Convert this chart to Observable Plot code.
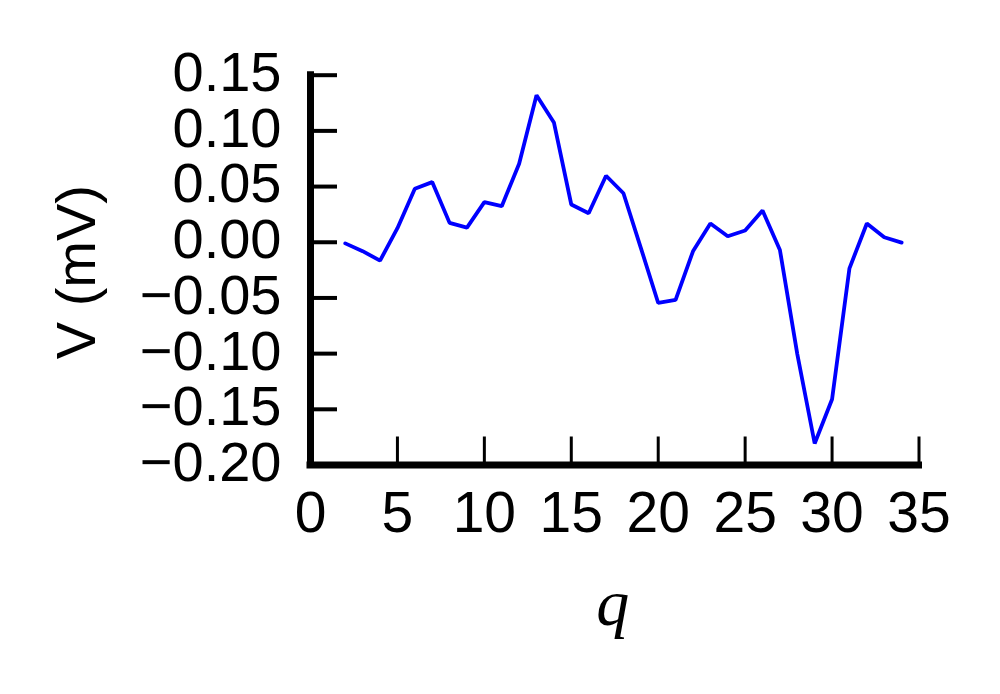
<!DOCTYPE html>
<html>
<head>
<meta charset="utf-8">
<script src="https://cdn.jsdelivr.net/npm/d3@7"></script>
<script src="https://cdn.jsdelivr.net/npm/@observablehq/plot@0.6"></script>
<style>
  html, body { margin: 0; padding: 0; background: #fff; overflow: hidden; }
  #chart svg { display: block; }
</style>
</head>
<body>
<div id="chart"></div>
<script>
// Data
const qValues = [2, 3, 4, 5, 6, 7, 8, 9, 10, 11, 12, 13, 14, 15, 16, 17, 18,
                 19, 20, 21, 22, 23, 24, 25, 26, 27, 28, 29, 30, 31, 32, 33, 34];
const vValues = [-0.001, -0.008, -0.0165, 0.0126, 0.048, 0.054, 0.0174, 0.0132, 0.036,
                 0.0324, 0.0705, 0.132, 0.1076, 0.0339, 0.026, 0.0597, 0.044, -0.005,
                 -0.0545, -0.0518, -0.0081, 0.0168, 0.0054, 0.0105, 0.0285, -0.0069,
                 -0.1004, -0.1807, -0.141, -0.0234, 0.0168, 0.0045, -0.0003];
const xTicks = [0, 5, 10, 15, 20, 25, 30, 35];
const yTicks = [0.15, 0.10, 0.05, 0.00, -0.05, -0.10, -0.15, -0.20];
const xDomain = [0, 35];
const yDomain = [-0.20, 0.15];
const xTitle = "q";
const yTitle = "V (mV)";

const data = qValues.map((q, i) => ({q, v: vValues[i]}));
const sans = "'Liberation Sans', Arial, Helvetica, sans-serif";
const fmt = d3.format(".2f");

const chart = Plot.plot({
  width: 1000,
  height: 694,
  marginLeft: 310,
  marginRight: 81.5,
  marginTop: 74.7,
  marginBottom: 229.5,
  style: {fontFamily: sans, background: "#fff", color: "#000", overflow: "visible"},
  x: {domain: xDomain},
  y: {domain: yDomain},
  marks: [
    // inward tick marks
    Plot.axisY(yTicks, {tickSize: 27, dx: 27, tickFormat: () => "", strokeWidth: 4, label: null}),
    Plot.axisX(xTicks, {tickSize: 28, dy: -28, tickFormat: () => "", strokeWidth: 3, label: null}),
    // tick labels
    Plot.axisY(yTicks, {tickSize: 0, tickPadding: 29, tickFormat: fmt, fontSize: 56, dy: -2, label: null}),
    Plot.axisX(xTicks, {tickSize: 0, tickPadding: 27, tickFormat: d => String(d), fontSize: 57, label: null}),
    // spines
    Plot.ruleX([xDomain[0]], {y1: yDomain[0], y2: yDomain[1], strokeWidth: 7, strokeLinecap: "square", stroke: "#000"}),
    Plot.ruleY([yDomain[0]], {x1: xDomain[0], x2: xDomain[1], strokeWidth: 7, strokeLinecap: "square", stroke: "#000"}),
    // data line
    Plot.line(data, {x: "q", y: "v", stroke: "#0000ff", strokeWidth: 3.8, strokeLinejoin: "miter"}),
    // axis titles
    Plot.text([xTitle], {frameAnchor: "bottom", textAnchor: "middle", lineAnchor: "middle", dy: 139, dx: -2,
      text: d => d, fontSize: 66,
      fontFamily: "'Liberation Serif', 'Times New Roman', serif", fontStyle: "italic", fill: "#000"}),
    Plot.text([yTitle], {frameAnchor: "left", textAnchor: "middle", lineAnchor: "middle", dx: -233, dy: 2,
      rotate: -90, text: d => d, fontSize: 56, fontFamily: sans, fill: "#000"})
  ]
});
document.getElementById("chart").appendChild(chart);
</script>
</body>
</html>
